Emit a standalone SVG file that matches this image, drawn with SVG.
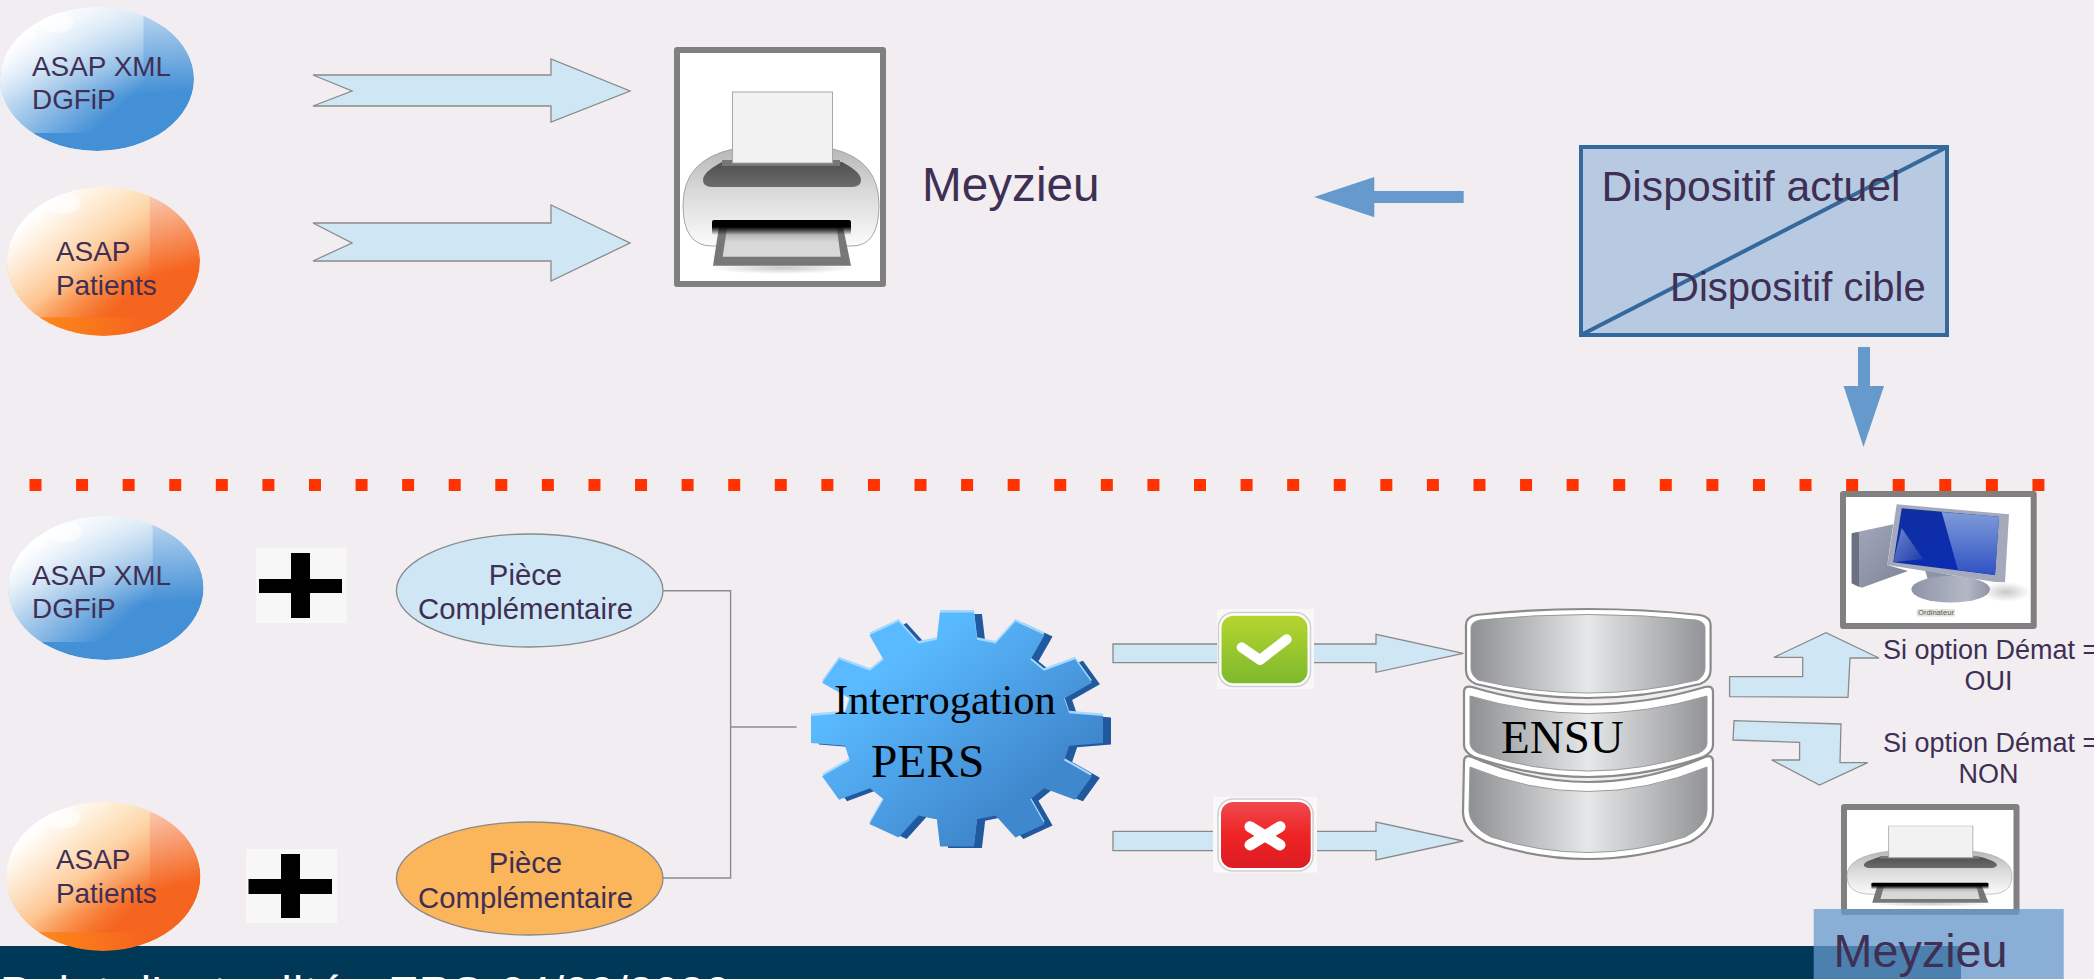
<svg xmlns="http://www.w3.org/2000/svg" width="2094" height="979" viewBox="0 0 2094 979">
<style>
text{font-family:"Liberation Sans",Arial,sans-serif;fill:#402F54}
.t28{font-size:27.9px}
.t29{font-size:29.3px}
.t27{font-size:27px}
.t47{font-size:47.7px}
.serif{font-family:"Liberation Serif","Times New Roman",serif;fill:#000}
.mid{text-anchor:middle}
.block{fill:#CFE6F5;stroke:#8A8A8A;stroke-width:1.3}
.wire{fill:none;stroke:#8C8C8C;stroke-width:1.4}
.solid{fill:#6699CC}
.frame{fill:#fff;stroke:#808080;stroke-width:6;stroke-linejoin:round}
.plusbg{fill:#F7F7F7}
.pluscross{fill:#000}
.discout{fill:#fff;stroke:#8A8A8A;stroke-width:2.2}
.discin{fill:url(#disc);stroke:#9A9A9A;stroke-width:1}
</style>
<defs>
<linearGradient id="blueBase" x1="0.5" y1="0" x2="0.55" y2="0.62"><stop offset="0" stop-color="#C4DCF2"/><stop offset="1" stop-color="#4490D6"/></linearGradient>
<linearGradient id="orangeBase" x1="0.5" y1="0" x2="0.72" y2="0.62"><stop offset="0" stop-color="#FBE3D6"/><stop offset="1" stop-color="#F5651F"/></linearGradient>
<linearGradient id="glossBlue" x1="0" y1="0" x2="1" y2="1"><stop offset="0.2" stop-color="#fff"/><stop offset="0.82" stop-color="#fff" stop-opacity="0"/></linearGradient>
<linearGradient id="glossOrange" x1="0" y1="0" x2="1" y2="1"><stop offset="0.2" stop-color="#fff"/><stop offset="0.55" stop-color="#FFE0B0" stop-opacity="0.75"/><stop offset="0.85" stop-color="#FFC070" stop-opacity="0"/></linearGradient>
<linearGradient id="bandOrange" x1="0" y1="0" x2="1" y2="0"><stop offset="0" stop-color="#FF9415"/><stop offset="1" stop-color="#FF9415" stop-opacity="0"/></linearGradient>
<radialGradient id="soft"><stop offset="0" stop-color="#C8C8C8"/><stop offset="1" stop-color="#C8C8C8" stop-opacity="0"/></radialGradient>
<clipPath id="ballClip"><circle cx="50" cy="50" r="50"/></clipPath>
<g id="glints"><ellipse cx="29" cy="11" rx="9" ry="7" fill="#fff" fill-opacity="0.6"/><circle cx="16" cy="20" r="3" fill="#fff" fill-opacity="0.6"/></g>
<g id="ballBlue" clip-path="url(#ballClip)"><circle cx="50" cy="50" r="50" fill="url(#blueBase)"/><rect x="0" y="0" width="74" height="87.5" fill="url(#glossBlue)"/><use href="#glints"/></g>
<g id="ballOrange" clip-path="url(#ballClip)"><circle cx="50" cy="50" r="50" fill="url(#orangeBase)"/><rect x="0" y="87.5" width="70" height="13" fill="url(#bandOrange)"/><rect x="0" y="0" width="74" height="87.5" fill="url(#glossOrange)"/><use href="#glints"/></g>
<linearGradient id="disc" x1="0" y1="0" x2="1" y2="0"><stop offset="0" stop-color="#8F9093"/><stop offset="0.5" stop-color="#E6E7E8"/><stop offset="1" stop-color="#939497"/></linearGradient>
<linearGradient id="gearFill" x1="0" y1="0" x2="1" y2="1"><stop offset="0.25" stop-color="#5ABAFF"/><stop offset="0.75" stop-color="#4088CE"/></linearGradient>
<linearGradient id="okFill" x1="0" y1="0" x2="0" y2="1"><stop offset="0" stop-color="#B6D530"/><stop offset="1" stop-color="#7DB92E"/></linearGradient>
<linearGradient id="koFill" x1="0" y1="0" x2="0" y2="1"><stop offset="0" stop-color="#F04A50"/><stop offset="0.5" stop-color="#EE2424"/><stop offset="1" stop-color="#DC1C24"/></linearGradient>
<linearGradient id="prBody" x1="0" y1="0" x2="0" y2="1"><stop offset="0" stop-color="#B8B8B8"/><stop offset="0.45" stop-color="#DADADA"/><stop offset="1" stop-color="#FBFBFB"/></linearGradient>
<linearGradient id="prBand" x1="0" y1="0" x2="0" y2="1"><stop offset="0" stop-color="#505050"/><stop offset="1" stop-color="#6C6C6C"/></linearGradient>
<linearGradient id="prSlot" x1="0" y1="0" x2="0" y2="1"><stop offset="0.45" stop-color="#000"/><stop offset="1" stop-color="#000" stop-opacity="0"/></linearGradient>
<linearGradient id="prTray" x1="0" y1="0" x2="0" y2="1"><stop offset="0" stop-color="#9A9A9A"/><stop offset="0.5" stop-color="#D8D8D8"/></linearGradient>
<linearGradient id="screen" x1="0" y1="0" x2="1" y2="1"><stop offset="0" stop-color="#0F2FA0"/><stop offset="1" stop-color="#0A2BB8"/></linearGradient>
<linearGradient id="glare" x1="0" y1="0" x2="0" y2="1"><stop offset="0" stop-color="#7F9BD8"/><stop offset="1" stop-color="#2F52C4"/></linearGradient>
<linearGradient id="glare2" x1="0" y1="0" x2="1" y2="1"><stop offset="0" stop-color="#6F88D0"/><stop offset="1" stop-color="#1C3AA8"/></linearGradient>
<linearGradient id="stand" x1="0" y1="0" x2="1" y2="0"><stop offset="0" stop-color="#8E94A8"/><stop offset="0.7" stop-color="#B4B8C6"/><stop offset="1" stop-color="#8E94A8"/></linearGradient>
<linearGradient id="tower" x1="0" y1="0" x2="1" y2="1"><stop offset="0" stop-color="#A4AABC"/><stop offset="1" stop-color="#7E8498"/></linearGradient>
<path id="cog" d="M-11.6,-100L11.6,-100L13.8,-76.8L26.4,-73.4L40,-92.4L60,-80.8L50.3,-59.6L59.6,-50.3L80.8,-60L92.4,-40L73.4,-26.4L76.8,-13.8L100,-11.6L100,11.6L76.8,13.8L73.4,26.4L92.4,40L80.8,60L59.6,50.3L50.3,59.6L60,80.8L40,92.4L26.4,73.4L13.8,76.8L11.6,100L-11.6,100L-13.8,76.8L-26.4,73.4L-40,92.4L-60,80.8L-50.3,59.6L-59.6,50.3L-80.8,60L-92.4,40L-73.4,26.4L-76.8,13.8L-100,11.6L-100,-11.6L-76.8,-13.8L-73.4,-26.4L-92.4,-40L-80.8,-60L-59.6,-50.3L-50.3,-59.6L-60,-80.8L-40,-92.4L-26.4,-73.4L-13.8,-76.8Z"/>
<g id="printer">
<ellipse cx="782" cy="268" rx="72" ry="6" fill="url(#soft)"/>
<path d="M733,149L833,149Q879,160 879,205Q879,246 852,246L712,246Q683,246 683,205Q683,160 733,149Z" fill="url(#prBody)" stroke="#A5A5A5" stroke-width="1"/>
<path d="M722,162L842,162Q861,172 861,180Q861,187 852,187L712,187Q703,187 703,180Q703,172 722,162Z" fill="url(#prBand)"/>
<polygon points="713,265.7 851,265.7 843,226.7 719,226.7" fill="#777"/>
<polygon points="722.7,256.7 840.7,256.7 836.7,228 727,228" fill="url(#prTray)"/>
<rect x="712" y="220" width="139" height="15" rx="2" fill="url(#prSlot)"/>
<rect x="722" y="160" width="118" height="6" fill="#777"/>
<rect x="732.5" y="92" width="100" height="71" fill="#F2F2F2" stroke="#A8A8A8" stroke-width="1"/>
</g>
</defs>

<rect id="background" x="0" y="0" width="2094" height="979" fill="#F1EDF1"/>
<rect id="footer" x="0" y="946" width="1961" height="33" fill="#003957"/>
<text id="footer-text" x="0" y="1009" font-size="46" style="fill:#fff"><tspan letter-spacing="1.3">Point d'actualité</tspan><tspan x="388">ERS</tspan><tspan x="500">04/09/2020</tspan></text>

<g id="separator"><line x1="29.5" y1="485" x2="2045" y2="485" stroke="#FF3300" stroke-width="12" stroke-dasharray="12 34.58"/></g>

<g id="connectors">
<polygon class="block" points="313,75 551,75 551,59 630,91 551,122 551,106 313,106 352,91"/>
<polygon class="block" points="313,223 551,223 551,205 630,243 551,281 551,261 313,261 352,243"/>
<polygon class="solid" points="1314,197 1374.3,177 1374.3,191 1463.7,191 1463.7,203 1374.3,203 1374.3,217.3"/>
<polygon class="solid" points="1858,347 1870,347 1870,386 1884,386 1863.5,447 1843.6,386 1858,386"/>
<polyline class="wire" points="663,590.7 730.6,590.7 730.6,878 663,878"/>
<line class="wire" x1="730.6" y1="727" x2="796.5" y2="727"/>
<polygon class="block" points="1113,644 1376,644 1376,634.3 1463.3,653.3 1376,672.3 1376,662.7 1113,662.7"/>
<polygon class="block" points="1113,831.3 1376,831.3 1376,822 1463.3,841 1376,860 1376,850.7 1113,850.7"/>
<polygon class="block" points="1729.6,676.7 1802.7,676.7 1802.7,657.3 1773.9,657.3 1826,632.7 1879,658 1850,658 1848,697.3 1729.6,696.7"/>
<polygon class="block" points="1734,720.7 1841,724 1840,762.7 1867.7,762.7 1819.5,785 1771.7,760 1799.6,760 1799.6,742.3 1733,740"/>
</g>

<g id="asap-xml-top"><use href="#ballBlue" transform="translate(0,7) scale(1.94,1.44)"/><text class="t28" x="32" y="76">ASAP XML</text><text class="t28" x="32" y="108.7">DGFiP</text></g>
<g id="asap-patients-top"><use href="#ballOrange" transform="translate(7,187) scale(1.93,1.49)"/><text class="t28" x="56" y="260.7">ASAP</text><text class="t28" x="56" y="295">Patients</text></g>

<g id="printer-top"><rect class="frame" x="677" y="50" width="206" height="234"/><use href="#printer"/></g>
<text id="meyzieu-top" class="t47" x="922" y="201">Meyzieu</text>

<g id="legend"><rect x="1581" y="147" width="366" height="188" fill="#B8CAE2" stroke="#35699B" stroke-width="4"/><line x1="1581" y1="335" x2="1947" y2="147" stroke="#35699B" stroke-width="4"/><text font-size="42.7" x="1601.5" y="200.7">Dispositif actuel</text><text font-size="40" x="1670" y="300.7">Dispositif cible</text></g>

<g id="asap-xml-bottom"><use href="#ballBlue" transform="translate(8,516) scale(1.956,1.44)"/><text class="t28" x="32" y="584.7">ASAP XML</text><text class="t28" x="32" y="617.7">DGFiP</text></g>
<g id="plus-top"><rect class="plusbg" x="256" y="548" width="91" height="75"/><rect class="pluscross" x="291" y="553" width="19" height="65"/><rect class="pluscross" x="259" y="579" width="83" height="14"/></g>
<g id="piece-top"><ellipse cx="529.7" cy="590.5" rx="133.3" ry="56.5" fill="#CFE6F5" stroke="#8A8A8A" stroke-width="1.3"/><text class="t29 mid" x="525.5" y="585">Pièce</text><text class="t29 mid" x="525.5" y="619">Complémentaire</text></g>

<g id="asap-patients-bottom"><use href="#ballOrange" transform="translate(6,802) scale(1.945,1.49)"/><text class="t28" x="56" y="869">ASAP</text><text class="t28" x="56" y="902.7">Patients</text></g>
<g id="plus-bottom"><rect class="plusbg" x="246" y="849" width="91" height="74"/><rect class="pluscross" x="281" y="854" width="19" height="64"/><rect class="pluscross" x="248.5" y="879" width="83.5" height="15"/></g>
<g id="piece-bottom"><ellipse cx="529.7" cy="878.5" rx="133.3" ry="56.5" fill="#FBB55A" stroke="#8A8A8A" stroke-width="1.3"/><text class="t29 mid" x="525.5" y="873">Pièce</text><text class="t29 mid" x="525.5" y="907.7">Complémentaire</text></g>

<g id="interrogation-pers">
<use href="#cog" transform="translate(965,731) scale(1.46,1.17)" fill="#21599F"/>
<use href="#cog" transform="translate(957,727) scale(1.46,1.17)" fill="#A5D8FF"/>
<use href="#cog" transform="translate(957,729.5) scale(1.46,1.17)" fill="url(#gearFill)"/>
<text class="serif" x="834" y="714" font-size="42.5">Interrogation</text>
<text class="serif" x="871" y="776.7" font-size="47.4">PERS</text>
</g>

<g id="status-ok"><rect x="1217" y="609" width="97" height="80" fill="#F8F8F8"/><rect x="1218.5" y="612.5" width="92" height="74" rx="15" fill="#fff" stroke="#CFCFCF" stroke-width="1.5"/><rect x="1221.5" y="615.7" width="86" height="67.5" rx="12" fill="url(#okFill)"/><polyline points="1241.7,647.3 1260,660 1286.7,639.3" fill="none" stroke="#fff" stroke-width="10" stroke-linecap="round" stroke-linejoin="round"/></g>
<g id="status-ko"><rect x="1213" y="796.7" width="104" height="76" fill="#F8F8F8"/><rect x="1218" y="799" width="95" height="72" rx="15" fill="#fff" stroke="#CFCFCF" stroke-width="1.5"/><rect x="1221" y="802" width="89.7" height="66" rx="12" fill="url(#koFill)"/><path d="M1250,826.7L1280,845M1280,826.7L1250,845" fill="none" stroke="#fff" stroke-width="11" stroke-linecap="round"/></g>

<g id="ensu">
<path class="discout" d="M1464,762Q1464,754 1472,757Q1588,807 1705,757Q1713,754 1713,762L1713,812Q1713,830 1690,842Q1588,876 1486,842Q1463,830 1463,812Z"/>
<path class="discin" d="M1470,767Q1588,816 1707,767L1707,810Q1707,826 1685,837Q1588,868 1491,837Q1469,826 1469,810Z"/>
<path class="discout" d="M1464,692Q1464,685 1472,687Q1588,722 1705,687Q1713,685 1713,692L1713,745Q1713,752 1703,757Q1588,797 1474,757Q1464,752 1464,745Z"/>
<path class="discin" d="M1470,696Q1588,731 1707,696L1707,743Q1707,749 1699,753Q1588,789 1478,753Q1470,749 1470,743Z"/>
<path class="discout" d="M1466,625Q1466,617 1476,615Q1588,603 1700,615Q1710.6,617 1710.6,625L1710.6,670Q1710.6,680 1700,684Q1588,712 1476,684Q1466,680 1466,670Z"/>
<path class="discin" d="M1471,628Q1471,622 1480,620Q1588,609 1696,620Q1705,622 1705,628L1705,668Q1705,675 1698,680Q1588,706 1478,680Q1471,675 1471,668Z"/>
<text class="serif" x="1501" y="753.3" font-size="47">ENSU</text>
</g>

<g id="computer">
<rect class="frame" x="1843" y="494" width="190.7" height="132"/>
<ellipse cx="2006" cy="592" rx="24" ry="10" fill="url(#soft)"/>
<polygon points="1851.7,533.3 1893.3,524.3 1887.3,565 1908,571 1861.7,587.7 1851.7,583.3" fill="url(#tower)"/>
<polygon points="1851.7,533.3 1859,532 1859,587 1851.7,583.3" fill="#6B7180"/>
<polygon points="1925,570 1960,577 1962,582 1928,580" fill="#8E94A8"/>
<ellipse cx="1950.7" cy="589.3" rx="39.3" ry="13.3" fill="url(#stand)"/>
<polygon points="1896.7,504.3 2009,514.3 2005,582.3 1995,582 1887.3,565" fill="#A4AABC"/>
<polygon points="1901.7,508.3 1999,516.7 1995,575 1893.3,562.3" fill="url(#screen)"/>
<polygon points="1941.7,512 1999,516.7 1995,575 1958,570" fill="url(#glare)"/>
<polygon points="1901.7,528 1923,559 1893.3,562.3" fill="url(#glare2)"/>
<rect x="1916.7" y="609" width="38.3" height="7.5" fill="#E4E4DE"/>
<text x="1936" y="615.2" class="mid" font-size="7.6" style="fill:#555">Ordinateur</text>
</g>

<g id="option-oui"><text class="t27" x="1883" y="658.7">Si option Démat =</text><text class="t27 mid" x="1988.5" y="690">OUI</text></g>
<g id="option-non"><text class="t27" x="1883" y="751.7">Si option Démat =</text><text class="t27 mid" x="1988.5" y="783.3">NON</text></g>

<g id="printer-bottom"><rect class="frame" x="1844" y="807" width="172.5" height="105"/><use href="#printer" transform="translate(1271.9,785.3) scale(0.842,0.4425)"/></g>
<g id="meyzieu-bottom"><rect x="1813.7" y="909" width="250" height="70" fill="#6699CC" fill-opacity="0.75"/><text x="1833.6" y="966.7" font-size="46.7">Meyzieu</text></g>
</svg>
